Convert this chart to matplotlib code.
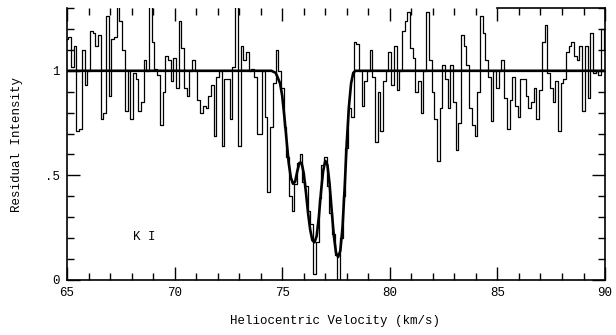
import numpy as np
import matplotlib
matplotlib.use("Agg")
import matplotlib.pyplot as plt
from matplotlib.ticker import MultipleLocator

# residual intensity per 0.125 km/s bin, starting at 65.0 km/s
v_start = 65.0
v_step = 0.125
intensity = [
    1.15, 1.16, 1.02, 1.12, 0.71, 0.72, 1.10, 0.93,  # 65
    1.00, 1.19, 1.18, 1.12, 1.17, 0.77, 0.80, 1.26,  # 66
    0.88, 1.15, 1.16, 1.32, 1.24, 1.10, 0.81, 1.00,  # 67
    0.77, 0.99, 0.96, 0.81, 0.85, 1.05, 1.00, 1.32,  # 68
    1.14, 1.01, 0.98, 0.74, 0.90, 1.07, 1.05, 0.95,  # 69
    1.06, 0.92, 1.24, 1.11, 0.92, 0.88, 1.00, 1.05,  # 70
    1.00, 0.86, 0.80, 0.83, 0.82, 0.88, 0.93, 0.69,  # 71
    0.97, 1.00, 0.64, 0.96, 0.96, 0.77, 1.02, 1.33,  # 72
    0.64, 1.12, 1.05, 1.09, 1.00, 1.01, 0.97, 0.70,  # 73
    0.70, 1.00, 0.78, 0.42, 0.73, 0.94, 1.10, 1.00,  # 74
    0.92, 0.73, 0.59, 0.40, 0.33, 0.46, 0.56, 0.60,  # 75
    0.47, 0.45, 0.33, 0.27, 0.03, 0.18, 0.39, 0.55,  # 76
    0.59, 0.45, 0.32, 0.22, 0.12, 0.00, 0.20, 0.40,  # 77
    0.63, 0.82, 0.78, 1.14, 1.13, 1.00, 0.83, 0.95,  # 78
    1.00, 1.10, 0.97, 0.66, 0.90, 0.71, 0.95, 1.00,  # 79
    1.09, 0.93, 1.12, 0.91, 1.00, 1.19, 1.24, 1.28,  # 80
    1.11, 1.06, 0.90, 0.95, 0.80, 1.00, 1.28, 1.05,  # 81
    0.90, 0.77, 0.57, 0.82, 1.03, 0.96, 0.82, 1.03,  # 82
    0.85, 0.62, 0.75, 1.17, 1.12, 1.03, 0.82, 0.74,  # 83
    0.69, 0.90, 1.26, 1.18, 1.05, 0.97, 0.76, 1.00,  # 84
    0.92, 1.00, 1.05, 0.87, 0.72, 0.86, 0.97, 0.83,  # 85
    0.78, 0.96, 0.96, 0.88, 0.82, 0.85, 0.92, 0.77,  # 86
    0.91, 1.14, 1.22, 0.99, 0.92, 0.85, 0.95, 0.71,  # 87
    0.94, 0.96, 1.09, 1.12, 1.14, 1.07, 1.05, 1.12,  # 88
    0.81, 1.12, 0.87, 1.18, 0.99, 1.00, 0.98, 1.20,  # 89
    1.10,
]

# fitted profile (continuum at 1, three K I components)
fit_vel = [65.0, 74.5, 74.7, 74.9, 75.0, 75.1, 75.2, 75.3, 75.4, 75.5, 75.6,
           75.7, 75.8, 75.9, 76.0, 76.1, 76.2, 76.3, 76.4, 76.5, 76.6, 76.7,
           76.8, 76.9, 77.0, 77.1, 77.2, 77.3, 77.4, 77.5, 77.6, 77.7, 77.8,
           77.9, 78.0, 78.1, 78.2, 78.3, 78.4, 90.0]
fit_int = [1.00, 1.00, 0.99, 0.94, 0.88, 0.78, 0.67, 0.56, 0.49, 0.46, 0.47,
           0.52, 0.56, 0.56, 0.51, 0.42, 0.32, 0.24, 0.19, 0.18, 0.21, 0.30,
           0.42, 0.52, 0.57, 0.55, 0.46, 0.33, 0.21, 0.13, 0.11, 0.14, 0.25,
           0.44, 0.66, 0.83, 0.94, 0.99, 1.00, 1.00]

vel = v_start + v_step * np.arange(len(intensity))

font = "Liberation Mono"
fig = plt.figure(figsize=(6.16, 3.35), dpi=100)
ax = fig.add_axes([0.1088, 0.1642, 0.8734, 0.8118])

ax.plot(vel, intensity, drawstyle="steps-mid", color="black", lw=0.9)
ax.plot(fit_vel, fit_int, color="black", lw=1.9)

ax.set_xlim(65, 90)
ax.set_ylim(0, 1.3)
ax.xaxis.set_major_locator(MultipleLocator(5))
ax.xaxis.set_minor_locator(MultipleLocator(1))
ax.set_yticks([0, 0.5, 1])
ax.set_yticklabels(["0", ".5", "1"])
ax.yaxis.set_minor_locator(MultipleLocator(0.1))
ax.tick_params(which="both", direction="in", top=True, right=True,
               width=1.0, colors="black")
ax.tick_params(which="major", length=9.5, pad=5, labelsize=9)
ax.tick_params(which="minor", length=5)
for lab in ax.get_xticklabels() + ax.get_yticklabels():
    lab.set_family(font)

for side in ["left", "right", "bottom", "top"]:
    ax.spines[side].set_linewidth(1.2)
ax.spines["top"].set_bounds(85, 90)

ax.text(68.07, 0.205, "K I", family=font, fontsize=9, ha="left", va="center")

ax.set_xlabel("Heliocentric Velocity (km/s)", family=font, fontsize=9)
ax.set_ylabel("Residual Intensity", family=font, fontsize=9)
ax.xaxis.set_label_coords(0.498, -0.13)
ax.yaxis.set_label_coords(-0.082, 0.5)

fig.savefig("out.png", dpi=100)
